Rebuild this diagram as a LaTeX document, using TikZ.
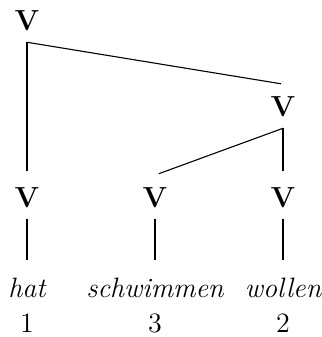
\documentclass[tikz,border=0pt]{standalone}
\usepackage{tikz}

\begin{document}
\begin{tikzpicture}[
    x=0.5pt, y=-0.5pt,
    every node/.style={font=\fontsize{14}{16}\selectfont},
    cat/.style={font=\fontsize{14.5}{16}\selectfont\bfseries, inner sep=0pt, outer ysep=6pt, anchor=base},
    word/.style={font=\fontsize{14}{16}\selectfont\itshape, inner sep=0pt, outer ysep=9pt, anchor=base},
    num/.style={inner sep=0pt, anchor=base},
    branch/.style={line width=0.55pt, shorten >=2pt},
]
\useasboundingbox (0,0) rectangle (321,337);

% === CATEGORY NODES ===
\node[cat] (top) at (27,30)  {V};
\node[cat] (vr)  at (283,116) {V};
\node[cat] (v1)  at (27,207)  {V};
\node[cat] (v2)  at (155,207) {V};
\node[cat] (v3)  at (283,207) {V};

% === WORDS ===
\node[word] (hat)  at (27,297)  {hat};
\node[word] (schw) at (155,297) {schwimmen};
\node[word] (woll) at (283,297) {wollen};

% === NUMBERS ===
\node[num] (n1) at (27,332)  {1};
\node[num] (n3) at (155,332) {3};
\node[num] (n2) at (283,332) {2};

% === BRANCHES ===
\draw[branch] (top.south) -- (v1.north);
\draw[branch, shorten >=1pt] (top.south) -- (vr.north);
\draw[branch] (vr.south) -- (v2.north);
\draw[branch] (vr.south) -- (v3.north);
\draw[line width=0.55pt] (v1.south) -- (hat.north);
\draw[line width=0.55pt] (v2.south) -- (schw.north);
\draw[line width=0.55pt] (v3.south) -- (woll.north);

\end{tikzpicture}
\end{document}
